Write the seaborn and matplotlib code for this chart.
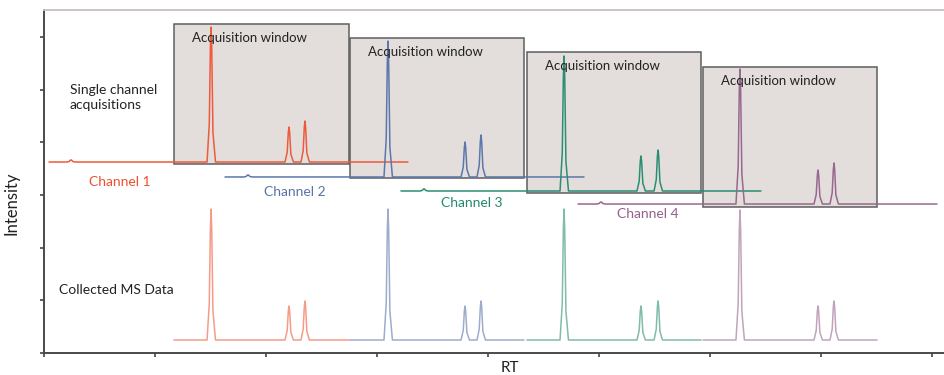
import numpy as np
import pandas as pd
import matplotlib
matplotlib.use("Agg")
import matplotlib.pyplot as plt
from matplotlib.patches import Rectangle
import seaborn as sns

# ---------------- data ----------------
channels = ["Channel 1", "Channel 2", "Channel 3", "Channel 4"]
# top (single channel) traces
trace_start = [0.045, 1.631, 3.216, 4.811]
trace_end = [3.279, 4.865, 6.459, 8.045]
trace_baseline = [3.624, 3.340, 3.074, 2.827]
bump_rt = [0.243, 1.838, 3.423, 5.018]
bump_height = [0.04, 0.04, 0.04, 0.04]
peak_rt = [[1.505, 2.207, 2.351],
           [3.099, 3.793, 3.937],
           [4.685, 5.378, 5.532],
           [6.270, 6.973, 7.117]]
peak_height = [[2.562, 0.664, 0.778],
               [2.580, 0.664, 0.797],
               [2.562, 0.664, 0.778],
               [2.562, 0.645, 0.778]]
# acquisition windows
window_start = [1.171, 2.757, 4.351, 5.937]
window_end = [2.748, 4.324, 5.919, 7.505]
window_bottom = [3.586, 3.321, 3.036, 2.770]
window_top = [6.243, 5.977, 5.712, 5.427]
# collected MS data (bottom)
ms_baseline = 0.247
ms_peak_height = [[2.485, 0.645, 0.740],
                  [2.485, 0.645, 0.740],
                  [2.485, 0.645, 0.740],
                  [2.465, 0.645, 0.740]]
# peak profile read from the peaks: offset in RT, fraction of height
profile_dx = [-0.036, -0.016, -0.006, 0.0, 0.006, 0.017, 0.040]
profile_fy = [0.0, 0.28, 0.85, 1.0, 0.85, 0.22, 0.0]

colors = ["#EE5A3A", "#5B77AB", "#2B8E74", "#98688F"]
text_colors = ["#EE4F2E", "#5A72A6", "#24886E", "#93628A"]


def build_trace(x0, x1, base, peaks, heights, bump=None, bump_h=0.0):
    xs, ys = [x0], [base]
    feats = []
    if bump is not None:
        feats.append((bump, bump_h))
    feats += list(zip(peaks, heights))
    for p, h in sorted(feats):
        if p + profile_dx[0] <= x0 or p + profile_dx[-1] >= x1:
            continue
        for dx, fy in zip(profile_dx, profile_fy):
            xs.append(p + dx)
            ys.append(base + fy * h)
    xs.append(x1)
    ys.append(base)
    return pd.DataFrame({"x": xs, "y": ys})


# ---------------- figure ----------------
sns.set_theme(style="white")
plt.rcParams["font.family"] = ["Lato", "DejaVu Sans"]

fig = plt.figure(figsize=(9.45, 3.75), dpi=100)
ax = fig.add_axes([44 / 945, 22 / 375, 901 / 945, 343 / 375])

# windows
for i in range(4):
    ax.add_patch(Rectangle((window_start[i], window_bottom[i]),
                           window_end[i] - window_start[i],
                           window_top[i] - window_bottom[i],
                           facecolor="#E3DEDC", edgecolor="#5E5E5E",
                           linewidth=1.1, zorder=1))
    ax.text(window_start[i] + 0.162, window_top[i] - 0.266,
            "Acquisition window", fontsize=9.5, color="#222222",
            ha="left", va="center", zorder=4)

# single-channel traces
for i in range(4):
    df = build_trace(trace_start[i], trace_end[i], trace_baseline[i],
                     peak_rt[i], peak_height[i], bump_rt[i], bump_height[i])
    sns.lineplot(data=df, x="x", y="y", sort=False, estimator=None,
                 color=colors[i], linewidth=1.1, ax=ax, zorder=3)

# collected MS data
for i in range(4):
    df = build_trace(window_start[i], window_end[i], ms_baseline,
                     peak_rt[i], ms_peak_height[i])
    sns.lineplot(data=df, x="x", y="y", sort=False, estimator=None,
                 color=colors[i], alpha=0.6, linewidth=1.1, ax=ax, zorder=3)

# channel labels
label_pos = [(0.685, 3.245), (2.261, 3.055), (3.856, 2.846), (5.441, 2.638)]
for i, (lx, ly) in enumerate(label_pos):
    ax.text(lx, ly, channels[i], color=text_colors[i], fontsize=10,
            ha="center", va="center")

ax.text(0.234, 4.848, "Single channel\nacquisitions", fontsize=10,
        color="#222222", ha="left", va="center", linespacing=1.25)
ax.text(0.135, 1.195, "Collected MS Data", fontsize=10, color="#222222",
        ha="left", va="center")

ax.set_xlim(0, 901 / 111)
ax.set_ylim(0, 343 / 52.7)
ax.set_xticks(np.arange(0, 9))
ax.set_yticks(np.arange(0, 7))
ax.set_xticklabels([])
ax.set_yticklabels([])
ax.tick_params(axis="both", direction="out", length=3, width=1.2,
               color="#444444", bottom=True, left=True)
ax.set_xlabel("RT", fontsize=11, color="#222222")
ax.set_ylabel("Intensity", fontsize=12, color="#222222")
ax.xaxis.set_label_coords(0.517, -0.022)
ax.yaxis.set_label_coords(-0.0277, 0.436)

for s in ["left", "bottom"]:
    ax.spines[s].set_color("#4A4A4A")
    ax.spines[s].set_linewidth(1.4)
ax.spines["top"].set_color("#CBBFBF")
ax.spines["top"].set_linewidth(1.3)
ax.spines["right"].set_visible(False)

fig.savefig("out.png", dpi=100)
